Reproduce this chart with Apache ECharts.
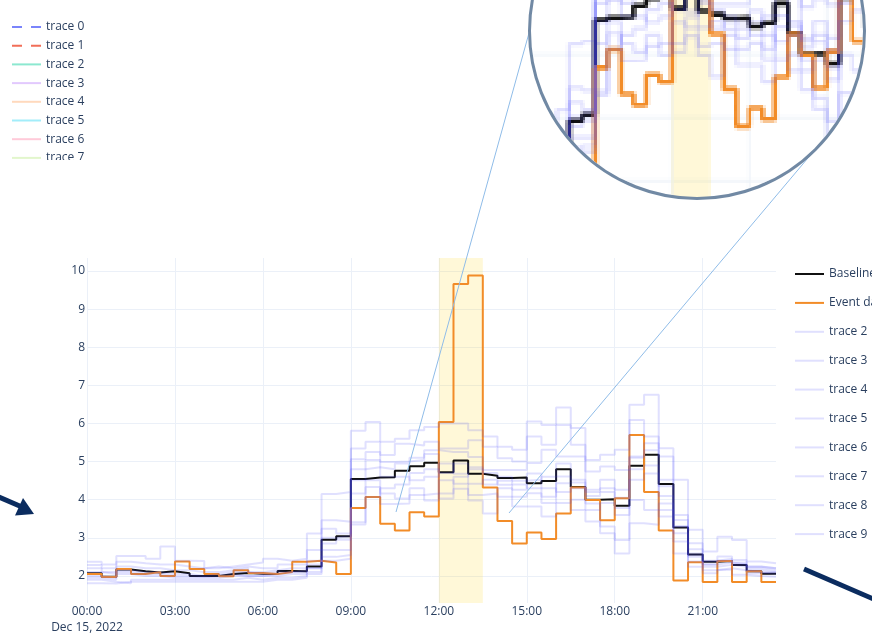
<!DOCTYPE html>
<html>
<head>
<meta charset="utf-8">
<script src="https://cdn.jsdelivr.net/npm/echarts@6/dist/echarts.min.js"></script>
<style>
  html, body { margin: 0; padding: 0; background: #fff; }
  #wrap { position: relative; width: 872px; height: 634px; overflow: hidden; }
  #main { position: absolute; left: 0; top: 0; width: 872px; height: 634px; }
  #legendBox { position: absolute; left: 0; top: 0; width: 200px; height: 160px; overflow: hidden; }
  #legendTop { width: 200px; height: 260px; }
  #lens {
    position: absolute; left: 528px; top: -138px; width: 338px; height: 338px;
    border-radius: 50%; border: 3px solid #7189a4; box-sizing: border-box;
    overflow: hidden; background: #fff;
  }
  #inset { width: 332px; height: 332px; }
  #inset canvas { image-rendering: pixelated; }
</style>
</head>
<body>
<div id="wrap">
  <div id="main"></div>
  <div id="legendBox"><div id="legendTop"></div></div>
  <div id="lens"><div id="inset"></div></div>
</div>
<script>
// half-hour bins, Dec 15 2022
const baseline = [2.07, 1.98, 2.17, 2.12, 2.09, 2.12, 2.07, 2.00, 2.00, 2.05, 2.08, 2.06, 2.05, 2.13, 2.12, 2.25,
  2.95, 3.04, 4.54, 4.58, 4.59, 4.76, 4.88, 4.97, 4.72, 5.03, 4.68, 4.63, 4.57, 4.58, 4.43, 4.49,
  4.80, 4.33, 4.00, 4.01, 3.84, 4.89, 5.18, 4.41, 3.27, 2.56, 2.37, 2.39, 2.29, 2.12, 2.06, 2.06]
const eventDay = [2.05, 1.97, 2.18, 2.05, 2.10, 2.00, 2.38, 2.18, 2.05, 1.99, 2.15, 2.08, 2.05, 2.10, 2.37, 2.40,
  2.35, 2.05, 3.78, 4.07, 3.37, 3.19, 3.67, 3.56, 6.04, 9.66, 9.88, 4.32, 3.44, 2.85, 3.14, 2.97,
  3.64, 4.32, 3.99, 3.46, 4.04, 5.70, 4.20, 3.19, 1.88, 2.36, 1.84, 2.39, 1.84, 2.12, 1.84, 1.84]
const trace2 = [2.37, 2.30, 2.52, 2.52, 2.45, 2.77, 2.40, 2.39, 2.20, 2.25, 2.30, 2.35, 2.45, 2.40, 2.45, 3.11,
  4.15, 4.20, 5.81, 6.04, 5.52, 5.60, 5.82, 5.91, 6.00, 6.00, 5.82, 5.66, 5.39, 5.31, 6.05, 5.96,
  6.42, 5.88, 5.04, 5.18, 5.31, 6.49, 6.75, 5.35, 4.52, 3.21, 2.64, 3.03, 2.94, 2.38, 2.33, 2.33]
const trace3 = [2.29, 2.20, 2.37, 2.33, 2.30, 2.30, 2.25, 2.20, 2.25, 2.20, 2.25, 2.20, 2.20, 2.30, 2.30, 2.68,
  3.46, 3.42, 5.34, 5.52, 5.17, 5.47, 5.42, 5.52, 5.34, 5.34, 5.56, 5.39, 5.09, 5.00, 5.66, 5.44,
  5.96, 5.44, 4.74, 4.87, 4.78, 6.09, 5.66, 5.13, 3.47, 2.86, 2.38, 2.51, 2.42, 2.24, 2.20, 2.20]
const trace4 = [2.20, 2.10, 2.25, 2.20, 2.20, 2.15, 2.15, 2.10, 2.10, 2.15, 2.20, 2.10, 2.15, 2.20, 2.20, 2.40,
  3.24, 3.11, 5.06, 5.25, 4.99, 5.00, 5.04, 5.30, 5.25, 5.25, 5.12, 4.78, 4.78, 4.78, 4.96, 5.31,
  5.13, 5.13, 4.26, 4.52, 4.26, 5.13, 5.48, 4.52, 3.12, 2.59, 2.24, 2.29, 2.24, 2.07, 2.10, 2.10]
const trace5 = [2.10, 2.05, 2.15, 2.10, 2.10, 2.05, 2.05, 2.00, 2.05, 2.10, 2.10, 2.05, 2.10, 2.10, 2.15, 2.30,
  2.85, 2.95, 4.51, 5.04, 4.60, 4.60, 4.51, 4.60, 4.95, 4.68, 4.42, 4.52, 4.39, 4.26, 4.69, 4.08,
  4.61, 4.52, 3.73, 3.91, 3.78, 4.52, 4.69, 3.73, 2.90, 2.38, 2.07, 2.16, 2.03, 2.00, 1.98, 1.98]
const trace6 = [1.95, 1.90, 2.05, 2.00, 2.00, 1.95, 1.95, 1.95, 1.95, 2.00, 2.00, 2.00, 2.00, 2.05, 2.05, 2.20,
  2.68, 2.68, 4.16, 4.51, 4.16, 4.03, 4.12, 4.16, 4.51, 4.42, 4.12, 4.16, 4.08, 4.08, 4.17, 3.91,
  4.43, 3.73, 3.43, 3.30, 2.94, 3.99, 3.73, 3.56, 2.59, 2.24, 2.15, 2.20, 2.15, 2.10, 2.05, 2.05]
const trace7 = [1.90, 1.85, 1.81, 1.90, 1.90, 1.90, 1.90, 1.90, 1.90, 1.90, 1.95, 1.90, 1.95, 1.95, 2.00, 2.10,
  2.50, 2.55, 3.41, 4.33, 3.89, 3.90, 4.30, 3.98, 4.16, 4.29, 3.98, 3.64, 4.30, 3.82, 3.82, 3.56,
  3.91, 4.00, 3.90, 3.12, 2.59, 3.38, 3.34, 3.90, 3.30, 2.50, 2.30, 2.35, 2.30, 2.20, 2.15, 2.15]
const trace8 = [1.81, 1.80, 1.85, 1.85, 1.85, 1.85, 1.85, 1.85, 1.85, 1.85, 1.85, 1.85, 1.90, 1.90, 1.95, 2.05,
  2.40, 2.45, 3.35, 4.07, 4.30, 4.40, 4.70, 4.80, 4.03, 4.60, 4.80, 4.40, 4.50, 4.40, 4.30, 4.30,
  4.20, 4.30, 4.10, 4.20, 3.60, 4.80, 4.90, 4.10, 3.60, 2.70, 2.40, 2.45, 2.35, 2.25, 2.20, 2.20]
const trace9 = [2.00, 1.95, 2.10, 2.05, 2.05, 2.00, 2.00, 1.98, 2.00, 2.05, 2.00, 2.00, 2.05, 2.10, 2.10, 2.20,
  3.00, 3.05, 4.80, 4.85, 4.80, 4.95, 5.10, 5.20, 4.70, 4.95, 4.85, 4.70, 4.60, 4.50, 4.52, 4.60,
  4.95, 4.45, 4.20, 4.30, 4.05, 5.10, 5.30, 4.35, 3.30, 2.55, 2.30, 2.40, 2.30, 2.15, 2.10, 2.10]

const faintTraces = [trace2, trace3, trace4, trace5, trace6, trace7, trace8, trace9]
const faintNames = ['trace 2', 'trace 3', 'trace 4', 'trace 5', 'trace 6', 'trace 7', 'trace 8', 'trace 9']

const xTicks = [0, 3, 6, 9, 12, 15, 18, 21]
const xTickLabels = ['00:00\nDec 15, 2022', '03:00', '06:00', '09:00', '12:00', '15:00', '18:00', '21:00']
const yTicks = [2, 3, 4, 5, 6, 7, 8, 9, 10]
const eventWindow = [12, 13.5]

// the other legend in the top left corner
const topNames = ['trace 0', 'trace 1', 'trace 2', 'trace 3', 'trace 4', 'trace 5', 'trace 6', 'trace 7']
const topColors = ['rgba(99,110,250,0.85)', 'rgba(239,85,59,0.85)', 'rgba(0,204,150,0.45)', 'rgba(171,99,250,0.35)',
  'rgba(255,161,90,0.4)', 'rgba(25,211,243,0.4)', 'rgba(255,102,146,0.35)', 'rgba(182,232,128,0.4)']

const FONT = '"Open Sans", "Noto Sans", sans-serif'
const TEXT = '#2a3f5f'
const GRIDC = '#ebf0f8'
const FAINT = 'rgba(70,70,250,0.17)'
const DASH_ICON = 'path://M0,0H10V2H0Z M19,0H29V2H19Z'

function pts(arr) {
  return arr.map((v, i) => [i / 2, v])
}

function buildSeries(mainW, faintW) {
  const list = [
    {
      name: '__band', type: 'line', data: [], z: 1, silent: true,
      markArea: {
        silent: true,
        itemStyle: { color: 'rgba(255,215,40,0.18)' },
        data: [[{ xAxis: eventWindow[0], yAxis: 'min' }, { xAxis: eventWindow[1], yAxis: 'max' }]],
      },
    },
    {
      name: 'Baseline', type: 'line', step: 'end', data: pts(baseline), symbol: 'none',
      lineStyle: { color: '#111', width: mainW }, itemStyle: { color: '#111' },
    },
    {
      name: 'Event day', type: 'line', step: 'end', data: pts(eventDay), symbol: 'none',
      lineStyle: { color: '#f28c28', width: mainW }, itemStyle: { color: '#f28c28' },
    },
  ]
  faintTraces.forEach((arr, k) => {
    list.push({
      name: faintNames[k], type: 'line', step: 'end', data: pts(arr), symbol: 'none',
      lineStyle: { color: FAINT, width: faintW }, itemStyle: { color: FAINT },
    })
  })
  return list
}

const main = echarts.init(document.getElementById('main'))
main.setOption({
  animation: false,
  textStyle: { fontFamily: FONT },
  grid: { left: 87, top: 258, width: 689, height: 345, outerBoundsMode: 'none' },
  xAxis: {
    type: 'value', min: 0, max: 23.5,
    axisLine: { show: false },
    axisTick: { show: false, customValues: xTicks },
    splitLine: { show: true, lineStyle: { color: GRIDC, width: 1 } },
    axisLabel: {
      customValues: xTicks, color: TEXT, fontSize: 12, fontFamily: FONT, margin: 1, lineHeight: 16,
      formatter: v => xTickLabels[xTicks.indexOf(v)] || '',
    },
  },
  yAxis: {
    type: 'value', min: 1.29, max: 10.34,
    axisLine: { show: false },
    axisTick: { show: false, customValues: yTicks },
    splitLine: { show: true, lineStyle: { color: GRIDC, width: 1 } },
    axisLabel: { customValues: yTicks, color: TEXT, fontSize: 12, fontFamily: FONT, margin: 2 },
  },
  legend: {
    orient: 'vertical', left: 795, top: 268, padding: 0,
    icon: 'rect', itemWidth: 29, itemHeight: 2, itemGap: 16.9,
    textStyle: { color: TEXT, fontSize: 12, fontFamily: FONT },
    data: ['Baseline', 'Event day'].concat(faintNames),
  },
  series: buildSeries(2, 2),
  graphic: [
    { type: 'line', z: 100, shape: { x1: 396, y1: 512, x2: 529, y2: 33 }, style: { stroke: '#8fbce8', lineWidth: 1 } },
    { type: 'line', z: 100, shape: { x1: 509, y1: 513, x2: 813, y2: 152 }, style: { stroke: '#8fbce8', lineWidth: 1 } },
    { type: 'line', z: 100, shape: { x1: -6, y1: 495, x2: 22, y2: 507 }, style: { stroke: '#0b2c5f', lineWidth: 5 } },
    { type: 'polygon', z: 100, shape: { points: [[34, 514], [15, 515.5], [23, 498]] }, style: { fill: '#0b2c5f' } },
    { type: 'line', z: 100, shape: { x1: 804, y1: 569, x2: 885, y2: 604 }, style: { stroke: '#0b2c5f', lineWidth: 5 } },
  ],
})

// magnified view inside the lens, drawn coarse and scaled up
const inset = echarts.init(document.getElementById('inset'), null, { devicePixelRatio: 0.35 })
inset.setOption({
  animation: false,
  grid: { left: 0, right: 0, top: 0, bottom: 0, outerBoundsMode: 'none' },
  xAxis: {
    type: 'value', min: 6.507, max: 19.44,
    axisLine: { show: false }, axisLabel: { show: false },
    axisTick: { show: false, customValues: xTicks },
    splitLine: { show: true, lineStyle: { color: GRIDC, width: 2 } },
  },
  yAxis: {
    type: 'value', min: 1.725, max: 6.994,
    axisLine: { show: false }, axisLabel: { show: false },
    axisTick: { show: false, customValues: yTicks },
    splitLine: { show: true, lineStyle: { color: GRIDC, width: 2 } },
  },
  series: buildSeries(4.5, 3.5),
})

const legendTop = echarts.init(document.getElementById('legendTop'))
legendTop.setOption({
  animation: false,
  grid: { left: 0, top: 0, width: 1, height: 1, outerBoundsMode: 'none' },
  xAxis: { show: false, type: 'value' },
  yAxis: { show: false, type: 'value' },
  legend: {
    orient: 'vertical', left: 12, top: 21, padding: 0,
    icon: 'rect', itemWidth: 29, itemHeight: 2, itemGap: 6.7,
    textStyle: { color: TEXT, fontSize: 12, fontFamily: FONT },
    data: topNames.map((n, i) => (i < 2 ? { name: n, icon: DASH_ICON } : { name: n })),
  },
  series: topNames.map((n, i) => ({
    name: n, type: 'line', data: [], symbol: 'none',
    lineStyle: { color: topColors[i], width: 2, type: i < 2 ? [9, 9] : 'solid' },
    itemStyle: { color: topColors[i] },
  })),
})
</script>
</body>
</html>
